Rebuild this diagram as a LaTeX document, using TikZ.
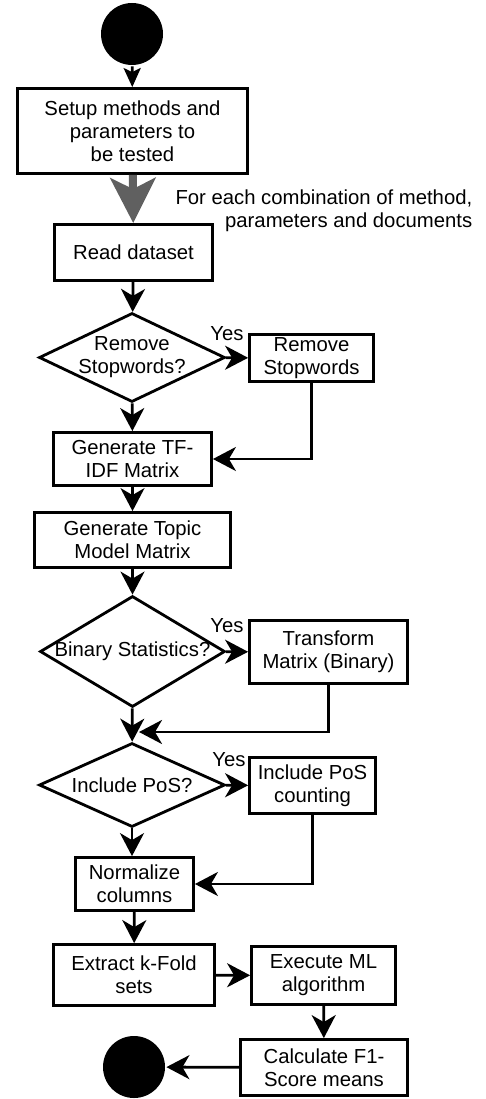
\documentclass[tikz,border=0pt]{standalone}
\usepackage{fontspec}
\setmainfont{Liberation Sans}
\usepackage{xcolor}
\usetikzlibrary{arrows.meta,shapes.geometric}

\definecolor{loopgray}{RGB}{96,96,96}

\begin{document}
\begin{tikzpicture}[x=1pt, y=-1pt, line width=2.8pt, color=black,
		every node/.style={font=\fontsize{20.3}{23}\selectfont, align=center},
		box/.style={draw, rectangle, inner sep=0pt},
		dec/.style={draw, diamond, inner sep=0pt},
		dot/.style={fill, circle, inner sep=0pt, minimum size=62pt},
		flow/.style={-{Stealth[length=23pt, width=24pt, inset=7pt]}}]
		\useasboundingbox (0,0) rectangle (486,1099);
		
		\node[dot] (start) at (132,34) {};
		\node[box, minimum width=230pt, minimum height=85pt] (setup) at (132.5,131) {Setup methods and\\parameters to\\be tested};
		\node[box, minimum width=158pt, minimum height=56pt] (read) at (133.5,252.5) {Read dataset};
		\node[anchor=east, align=right] (loopnote) at (477,211) {For each combination of method,\\parameters and documents};
		
		\node[dec, minimum width=186pt, minimum height=89pt, label={center:Remove\\Stopwords?}] (rmq) at (132,357.5) {};
		\node[box, minimum width=124pt, minimum height=47pt] (rmsw) at (311.5,358) {Remove\\Stopwords};
		\node (yes1) at (227,334) {Yes};
		\node[box, minimum width=158pt, minimum height=53pt] (tfidf) at (132.5,459) {Generate TF-\\IDF Matrix};
		\node[box, minimum width=196pt, minimum height=55pt] (topic) at (132.5,540) {Generate Topic\\Model Matrix};
		
		\node[dec, minimum width=185pt, minimum height=111pt, label={center:Binary Statistics?}] (binq) at (132.5,651.5) {};
		\node[box, minimum width=158pt, minimum height=63pt] (binbox) at (328.5,652) {Transform\\Matrix (Binary)};
		\node (yes2) at (227,626) {Yes};
		\coordinate (join2) at (139,732);
		
		\node[dec, minimum width=186pt, minimum height=84pt, label={center:Include PoS?}] (posq) at (132,785) {};
		\node[box, minimum width=126pt, minimum height=56pt] (posbox) at (312.5,785.5) {Include PoS\\counting};
		\node (yes3) at (229,760) {Yes};
		
		\node[box, minimum width=118pt, minimum height=53pt] (norm) at (134.5,884) {Normalize\\columns};
		\node[box, minimum width=161pt, minimum height=61pt] (kfold) at (134,975) {Extract k-Fold\\sets};
		\node[box, minimum width=144pt, minimum height=58pt] (exec) at (323.5,975.5) {Execute ML\\algorithm};
		\node[box, minimum width=167pt, minimum height=56pt] (calc) at (324,1067.5) {Calculate F1-\\Score means};
		\node[dot] (stop) at (134,1067) {};
		
		\draw[-{Stealth[length=19pt, width=17pt, inset=4pt]}] (start) -- (setup);
		\draw[loopgray, line width=8pt, -{Stealth[length=45pt, width=45pt, inset=11pt]}] (setup) -- (read);
		\draw[flow] (read) -- (rmq);
		\draw[flow] (rmq) -- (rmsw);
		\draw[flow] (rmq) -- (tfidf);
		\draw[flow] (rmsw) |- (tfidf);
		\draw[flow] (tfidf) -- (topic);
		\draw[flow] (topic) -- (binq);
		\draw[flow] (binq) -- (binbox);
		\draw[flow] (binq) -- (posq);
		\draw[flow] (binbox) |- (join2);
		\draw[flow] (posq) -- (posq.south |- norm.north);
		\draw[flow] (posq) -- (posbox);
		\draw[flow] (posbox) |- (norm);
		\draw[flow] (norm) -- (kfold);
		\draw[flow] (kfold) -- (exec);
		\draw[flow] (exec) -- (calc);
		\draw[flow] (calc) -- (stop);
	\end{tikzpicture}
\end{document}
